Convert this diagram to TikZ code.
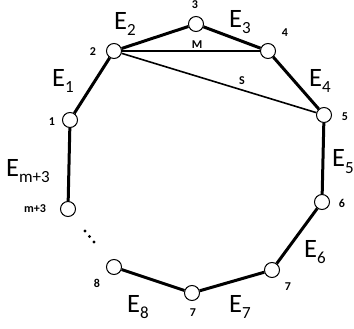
\documentclass[tikz,border=0pt]{standalone}
\usepackage{fontspec}
\setmainfont{Carlito}
\newcommand{\EE}[1]{E\raisebox{-6pt}{\fontsize{17}{17}\selectfont #1}}
\begin{document}
\begin{tikzpicture}[x=1pt,y=-1pt,
  vtx/.style={circle,draw,line width=1pt,fill=white,minimum size=15pt,inner sep=0pt},
  edgethick/.style={line width=3pt},
  edgethin/.style={line width=1.6pt},
  big/.style={anchor=base west,inner sep=0pt,font=\fontsize{26.5}{26.5}\selectfont},
  small/.style={inner sep=0pt,font=\fontsize{12}{12}\selectfont\bfseries}]
\useasboundingbox (0,0) rectangle (354,329);
% vertices
\node[vtx] (v1) at (70,120) {};
\node[vtx] (v2) at (114,51) {};
\node[vtx] (v3) at (196,24) {};
\node[vtx] (v4) at (268,51) {};
\node[vtx] (v5) at (324,115) {};
\node[vtx] (v6) at (322,202) {};
\node[vtx] (v7a) at (272,270) {};
\node[vtx] (v7b) at (192,293) {};
\node[vtx] (v8) at (114,267) {};
\node[vtx] (vm) at (68,209) {};
% edges
\draw[edgethick] (v1) -- (v2);
\draw[edgethick] (v2) -- (v3);
\draw[edgethick] (v3) -- (v4);
\draw[edgethick] (v4) -- (v5);
\draw[edgethick] (v5) -- (v6);
\draw[edgethick] (v6) -- (v7a);
\draw[edgethick] (v7a) -- (v7b);
\draw[edgethick] (v7b) -- (v8);
\draw[edgethick] (v1) -- (vm);
\draw[edgethin] (v2) -- (v4);
\draw[edgethin] (v2) -- (v5);
% vertex labels
\node[small] (l1) at (52,122) {1};
\node[small] (l2) at (93,52) {2};
\node[small] (l3) at (195,5) {3};
\node[small] (l4) at (285,33) {4};
\node[small] (l5) at (345,117) {5};
\node[small] (l6) at (342,203) {6};
\node[small] (l7a) at (288,287) {7};
\node[small] (l7b) at (193,313) {7};
\node[small] (l8) at (97,283) {8};
\node[small] (lm) at (35,209) {m+3};
\node[small] (lM) at (197,45) {M};
\node[small] (lS) at (242,81) {S};
% edge labels
\node[big] (e1) at (52,87) {\EE{1}};
\node[big] (e2) at (114,30) {\EE{2}};
\node[big] (e3) at (229,28) {\EE{3}};
\node[big] (e4) at (309,87) {\EE{4}};
\node[big] (e5) at (332,167) {\EE{5}};
\node[big] (e6) at (304,257) {\EE{6}};
\node[big] (e7) at (229,312) {\EE{7}};
\node[big] (e8) at (127,312) {\EE{8}};
\node[big] (em) at (6,176) {\EE{m+3}};
% dots
\fill (85,231) circle (1.7);
\fill (89.5,236.5) circle (1.7);
\fill (94,242) circle (1.7);
\end{tikzpicture}
\end{document}
